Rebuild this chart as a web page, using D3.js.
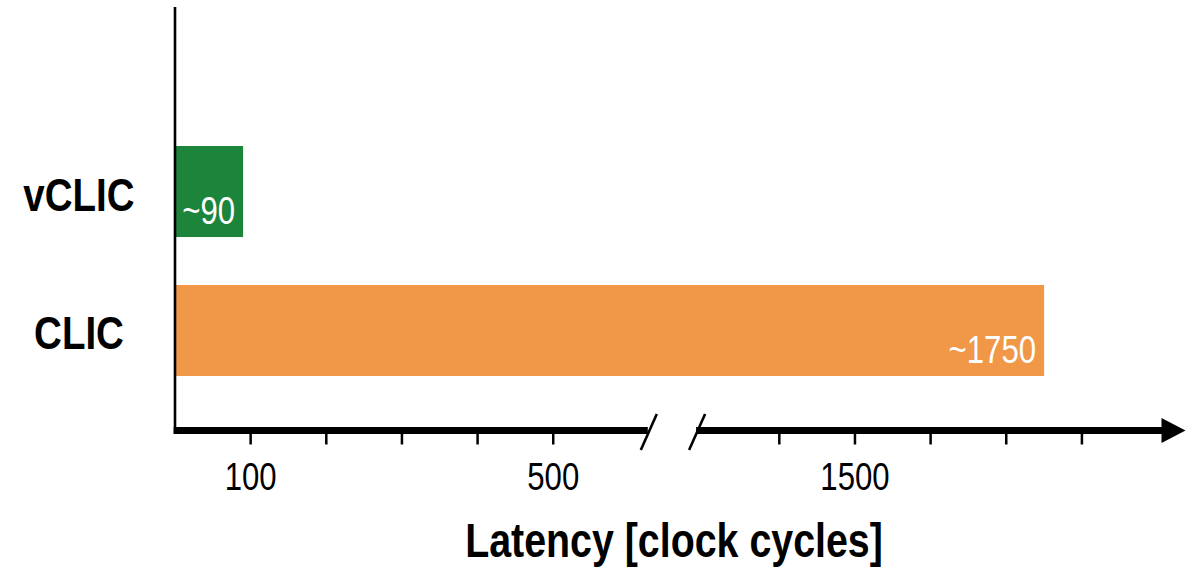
<!DOCTYPE html>
<html>
<head>
<meta charset="utf-8">
<script src="https://cdn.jsdelivr.net/npm/d3@7"></script>
<style>
  html, body { margin: 0; padding: 0; background: #ffffff; }
  svg { display: block; }
  text { font-family: "Liberation Sans", Arial, sans-serif; }
</style>
</head>
<body>
<svg id="chart" width="1186" height="571"></svg>
<script>
// Interrupt latency per controller (clock cycles)
const categories = ["vCLIC", "CLIC"];
const latencies = [90, 1750];
const valueLabels = ["~90", "~1750"];
const barColors = ["#1c843b", "#f19748"];

// Axis ticks: minor marks every 100 cycles, labelled ones shown
const lowTicks = [100, 200, 300, 400, 500];
const highTicks = [1400, 1500, 1600, 1700, 1800];
const labelledTicks = [100, 500, 1500];

// The axis is broken between these two values
const breakLow = 625;
const breakHigh = 1290;
const axisMax = 1936;

// Condensed lettering: regular face squeezed horizontally
const squeeze = 0.82;
const placeText = (sel, fx, fy) =>
  sel.attr("transform", (d, i) => `translate(${fx(d, i)},${fy(d, i)}) scale(${squeeze},1)`);

const svg = d3.select("#chart");

// Piecewise scale: two linear pieces joined across the break
const x = d3.scaleLinear()
  .domain([0, breakLow, breakHigh, axisMax])
  .range([175, 647.8, 696.1, 1184.8]);

const y = d3.scaleBand()
  .domain(categories)
  .range([146, 376])
  .paddingInner(0.345)
  .paddingOuter(0);

const axisY = 430.5;
const data = categories.map((c, i) => ({ cat: c, value: latencies[i], label: valueLabels[i], color: barColors[i] }));

// Bars
svg.selectAll("rect.bar")
  .data(data)
  .join("rect")
  .attr("class", "bar")
  .attr("x", x(0))
  .attr("y", d => y(d.cat))
  .attr("width", d => x(d.value) - x(0))
  .attr("height", y.bandwidth())
  .attr("fill", d => d.color);

// Value labels inside the bar ends
svg.selectAll("text.value")
  .data(data)
  .join("text")
  .attr("class", "value")
  .call(placeText, d => x(d.value) - 8, d => y(d.cat) + y.bandwidth() - 13)
  .attr("text-anchor", "end")
  .attr("fill", "#ffffff")
  .attr("font-size", 38)
  .text(d => d.label);

// Category labels
svg.selectAll("text.cat")
  .data(categories)
  .join("text")
  .attr("class", "cat")
  .call(placeText, () => 79, d => y(d) + y.bandwidth() / 2 + 19)
  .attr("text-anchor", "middle")
  .attr("font-size", 47)
  .attr("font-weight", "bold")
  .attr("fill", "#000")
  .text(d => d);

// Vertical axis line
svg.append("line")
  .attr("x1", x(0)).attr("x2", x(0))
  .attr("y1", 7).attr("y2", axisY + 3.5)
  .attr("stroke", "#000").attr("stroke-width", 2.6);

// Horizontal axis, two segments either side of the break
const axisG = svg.append("g");
axisG.append("line")
  .attr("x1", x(0) - 1.3).attr("x2", x(breakLow))
  .attr("y1", axisY).attr("y2", axisY)
  .attr("stroke", "#000").attr("stroke-width", 7);
axisG.append("line")
  .attr("x1", x(breakHigh)).attr("x2", 1163)
  .attr("y1", axisY).attr("y2", axisY)
  .attr("stroke", "#000").attr("stroke-width", 7);

// Arrow head
axisG.append("path")
  .attr("d", `M1161.5,418 L1185.5,430.5 L1161.5,443 Z`)
  .attr("fill", "#000");

// Break marks
[breakLow, breakHigh].forEach(v => {
  const cx = x(v) + 1;
  axisG.append("line")
    .attr("x1", cx - 8).attr("y1", 450)
    .attr("x2", cx + 8).attr("y2", 414)
    .attr("stroke", "#000").attr("stroke-width", 2.6);
});

// Tick marks
axisG.selectAll("line.tick")
  .data(lowTicks.concat(highTicks))
  .join("line")
  .attr("class", "tick")
  .attr("x1", d => x(d)).attr("x2", d => x(d))
  .attr("y1", axisY).attr("y2", 444.5)
  .attr("stroke", "#000").attr("stroke-width", 2.5);

// Tick labels
axisG.selectAll("text.ticklabel")
  .data(labelledTicks)
  .join("text")
  .attr("class", "ticklabel")
  .call(placeText, d => x(d), () => 490)
  .attr("text-anchor", "middle")
  .attr("font-size", 38)
  .attr("fill", "#000")
  .text(d => d);

// Axis title
svg.append("text")
  .attr("transform", `translate(674,557) scale(${squeeze},1)`)
  .attr("text-anchor", "middle")
  .attr("font-size", 48)
  .attr("font-weight", "bold")
  .attr("fill", "#000")
  .text("Latency [clock cycles]");
</script>
</body>
</html>
